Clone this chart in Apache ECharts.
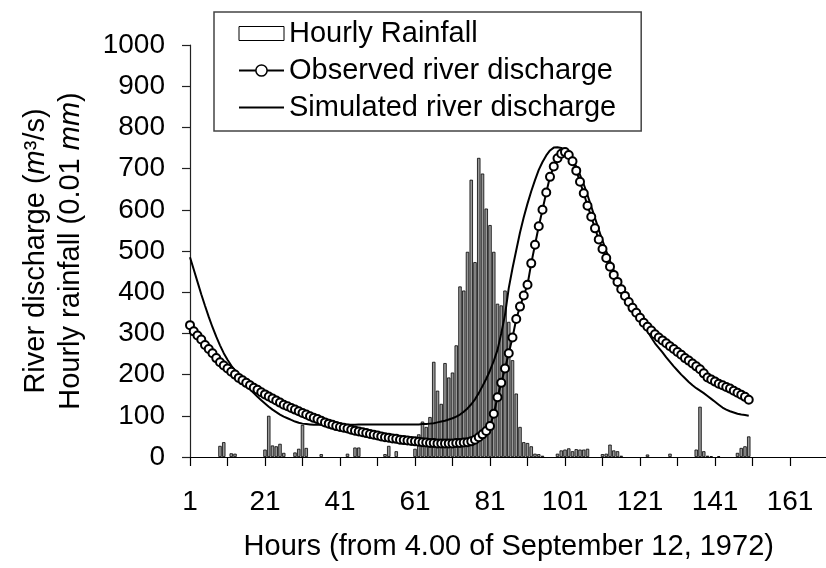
<!DOCTYPE html>
<html>
<head>
<meta charset="utf-8">
<script src="https://cdn.jsdelivr.net/npm/echarts@6/dist/echarts.min.js"></script>
<style>html,body{margin:0;padding:0;background:#fff;}#c{width:826px;height:568px;}</style>
</head>
<body>
<div id="c"></div>
<script>
// Hours 1..150
const hours = [];
for (let h = 1; h <= 150; h++) hours.push(h);

// Hourly rainfall (0.01 mm), non-zero hours
const rainHours = [9,10,12,13,21,22,23,24,25,26,29,30,31,32,36,43,45,46,53,54,56,
  61,62,63,64,65,66,67,68,69,70,71,72,73,74,75,76,77,78,79,80,81,82,83,84,85,86,87,88,89,90,
  91,92,93,94,95,99,100,101,102,103,104,105,106,107,111,112,113,114,115,116,123,129,
  136,137,138,139,140,142,147,148,149,150];
const rainValues = [27,36,9,8,18,100,28,26,32,10,11,20,78,22,7,8,23,23,7,27,14,
  20,55,86,73,97,231,161,129,228,193,205,271,414,404,498,673,473,726,688,603,563,498,372,368,404,328,235,154,73,36,
  34,26,8,7,3,8,16,18,21,14,19,18,18,20,7,8,30,16,14,3,6,8,
  18,122,14,3,2,2,10,22,26,50];

// Observed river discharge (m3/s), hours 1..150
const observed = [
  320,305,295,285,272,262,252,240,230,222,
  215,207,200,192,186,180,174,168,163,157,
  152,147,142,137,132,127,123,119,115,111,
  107,103,99,95,92,88,84,81,78,75,
  73,71,69,66,64,62,60,58,56,54,
  52,50,48,47,45,44,42,41,40,39,
  38,37,36,35,34,34,33,33,33,33,
  33,34,34,35,36,38,42,48,55,63,
  75,105,145,180,215,252,290,335,365,392,
  418,470,515,560,600,642,680,705,725,736,
  740,733,718,695,668,640,610,583,555,528,
  505,483,462,442,425,407,391,376,362,350,
  338,326,316,307,298,290,283,276,269,262,
  255,248,240,234,227,220,213,203,193,188,
  183,178,174,170,166,161,156,151,146,139
];

// Simulated river discharge (m3/s), hours 1..150
const simulated = [
  485,455,425,395,367,340,315,292,271,252,
  236,222,210,199,188,177,165,155,146,138,
  130,122,115,109,103,98,94,90,86,83,
  81,80,79,78,78,78,78,78,78,78,
  78,78,78,78,78,79,79,79,79,79,
  79,79,79,79,79,79,79,79,79,79,
  79,79,80,80,81,82,84,86,88,91,
  94,98,103,110,118,128,140,155,172,190,
  210,233,260,300,345,410,458,502,545,582,
  615,645,672,697,716,732,744,751,752,750,
  745,735,722,705,685,662,636,608,580,552,
  525,500,476,453,432,412,393,375,358,342,
  340,322,305,290,276,265,254,242,231,220,
  210,200,191,182,174,167,161,155,148,141,
  134,127,120,115,111,108,105,103,102,100
];

// x axis tick labels (hours)
const xTickLabels = [1,21,41,61,81,101,121,141,161];

const FONT = '"Liberation Sans", Arial, Helvetica, sans-serif';

const rainData = rainHours.map((h, i) => [h - 1, rainValues[i]]);
const obsData = hours.map((h, i) => [h - 1, observed[i]]);
const simData = hours.map((h, i) => [h - 1, simulated[i]]);

const chart = echarts.init(document.getElementById('c'), null, {renderer: 'canvas'});
chart.setOption({
  animation: false,
  backgroundColor: '#fff',
  grid: {left: 190, top: 45, width: 637.5, height: 412, containLabel: false, outerBoundsMode: 'none'},
  legend: {
    orient: 'vertical',
    left: 214, top: 12,
    padding: [7, 25, 9, 24],
    itemWidth: 45, itemHeight: 14, itemGap: 8,
    borderColor: '#444', borderWidth: 1.5, backgroundColor: '#fff',
    textStyle: {fontFamily: FONT, fontSize: 29, color: '#000', lineHeight: 29},
    data: [
      {name: 'Hourly Rainfall', icon: 'rect', itemStyle: {color: '#fff', borderColor: '#000', borderWidth: 1}},
      {name: 'Observed river discharge', itemStyle: {color: '#fff', borderColor: '#000', borderWidth: 1.5}},
      {name: 'Simulated river discharge', itemStyle: {opacity: 0}, lineStyle: {color: '#000', width: 2, opacity: 1}}
    ]
  },
  xAxis: {
    type: 'value', min: 0, max: 170, interval: 10,
    name: 'Hours (from 4.00 of September 12, 1972)',
    nameLocation: 'middle', nameGap: 75,
    nameTextStyle: {fontFamily: FONT, fontSize: 29, color: '#000'},
    axisLine: {show: true, onZero: false, lineStyle: {color: '#000', width: 1.2}},
    axisTick: {show: true, inside: false, length: 9, lineStyle: {color: '#000', width: 1.2}},
    axisLabel: {
      margin: 31, fontFamily: FONT, fontSize: 28, color: '#000',
      formatter: v => (xTickLabels.indexOf(v + 1) >= 0 ? String(v + 1) : '')
    },
    splitLine: {show: false}
  },
  yAxis: {
    type: 'value', min: 0, max: 1000, interval: 100,
    axisLine: {show: true, lineStyle: {color: '#222', width: 1.2}},
    axisTick: {show: true, inside: false, length: 8, lineStyle: {color: '#222', width: 1.2}},
    axisLabel: {margin: 25, fontFamily: FONT, fontSize: 28, color: '#000', formatter: v => String(v)},
    splitLine: {show: false}
  },
  graphic: [{
    type: 'text', x: 53, y: 251, rotation: Math.PI / 2,
    style: {
      text: '{n|River discharge (}{i|m}{n|³/s)}\n{n|Hourly rainfall (0.01 }{i|mm}{n|)}',
      align: 'center', verticalAlign: 'middle',
      rich: {
        n: {fontFamily: FONT, fontSize: 29, lineHeight: 35, fill: '#000'},
        i: {fontFamily: FONT, fontSize: 29, lineHeight: 35, fontStyle: 'italic', fill: '#000'}
      }
    }
  }],
  series: [
    {
      name: 'Hourly Rainfall', type: 'bar', data: rainData, barWidth: 3.4, z: 1,
      itemStyle: {color: '#999', borderColor: '#000', borderWidth: 0.8}
    },
    {
      name: 'Observed river discharge', type: 'line', data: obsData, z: 4,
      symbol: 'circle', symbolSize: 8, showSymbol: true, showAllSymbol: true,
      itemStyle: {color: '#fff', borderColor: '#000', borderWidth: 2},
      lineStyle: {color: '#000', width: 2}
    },
    {
      name: 'Simulated river discharge', type: 'line', data: simData, z: 3,
      symbol: 'none', smooth: false,
      itemStyle: {color: '#000'},
      lineStyle: {color: '#000', width: 2}
    }
  ]
});
</script>
</body>
</html>
